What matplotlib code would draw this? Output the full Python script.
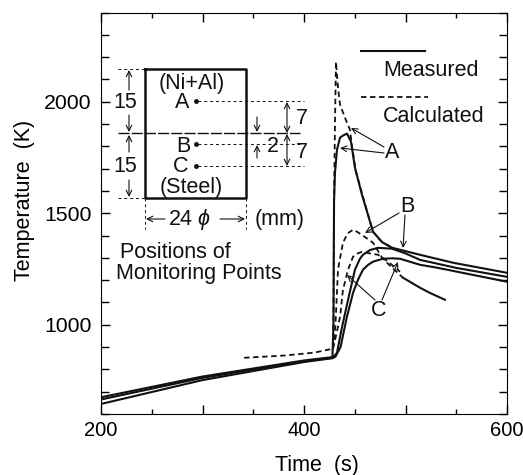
import matplotlib
matplotlib.use("Agg")
import matplotlib.pyplot as plt
from matplotlib.ticker import FixedLocator, FuncFormatter, MultipleLocator

plt.rcParams['font.family'] = ['Liberation Sans', 'DejaVu Sans']
plt.rcParams['mathtext.fontset'] = 'custom'
plt.rcParams['mathtext.it'] = 'Liberation Sans:italic'

# measured curves
a_meas_t = [200, 300, 400, 428, 429, 429.6, 430.5, 432.5, 435.5, 439, 442.4, 446.3, 450.2, 457.1, 468, 477, 487, 495, 514, 547, 600]
a_meas_T = [675, 768, 840, 855, 1000, 1552, 1680, 1785, 1839, 1850, 1857, 1821, 1704, 1583, 1417, 1370, 1345, 1336, 1314, 1278, 1233]
b_meas_t = [200, 300, 400, 428, 432.5, 437, 443.4, 450.2, 455, 458.1, 465, 472.9, 486.7, 500, 514.3, 550, 600]
b_meas_T = [665, 762, 837, 852, 874, 980, 1112, 1247, 1295, 1314, 1335, 1345, 1341, 1320, 1291, 1255, 1215]
c_meas_t = [200, 300, 400, 428, 431, 436, 442, 448.3, 453, 458.1, 463, 468, 477.8, 487, 494.6, 514.3, 531, 600]
c_meas_T = [645, 752, 833, 850, 857, 900, 1030, 1143, 1200, 1247, 1268, 1283, 1296, 1298, 1296, 1269, 1256, 1193]

# calculated curves
a_calc_t = [341, 380, 410, 428.6, 429, 429.6, 430.5, 431.5, 433.5, 435.5, 440.4, 445.3, 447.3, 451, 458, 468, 477, 487]
a_calc_T = [852, 862, 875, 893, 1000, 1552, 1897, 2179, 2063, 1987, 1928, 1874, 1800, 1690, 1575, 1417, 1370, 1345]
b_calc_t = [428.6, 431, 433.5, 436, 438.4, 443, 448.3, 453, 458, 468, 477, 486.7, 497.5]
b_calc_T = [893, 1000, 1247, 1310, 1368, 1410, 1426, 1415, 1400, 1368, 1300, 1256, 1211]
c_calc_t = [428.6, 432, 435.5, 438.4, 443.4, 448.3, 453, 457, 465, 472.9, 482.8, 494.6]
c_calc_T = [893, 960, 1036, 1157, 1247, 1305, 1320, 1327, 1320, 1314, 1283, 1238]
# the tail of the calculated curve is printed solid
tail_t = [497.5, 514.3, 524, 538.9]
tail_T = [1211, 1166, 1143, 1112]

x_labels = [200, 400, 600]

fig = plt.figure(figsize=(5.23, 4.75), dpi=100)
ax = fig.add_axes([101 / 523, (475 - 414) / 475, 406 / 523, 401.5 / 475])

for t, T in [(a_meas_t, a_meas_T), (b_meas_t, b_meas_T), (c_meas_t, c_meas_T), (tail_t, tail_T)]:
    ax.plot(t, T, color='#111111', lw=1.5)
for t, T in [(a_calc_t, a_calc_T), (b_calc_t, b_calc_T), (c_calc_t, c_calc_T)]:
    ax.plot(t, T, color='#111111', lw=1.3, ls=(0, (3, 2)))

ax.set_xlim(200, 600)
ax.set_ylim(600, 2400)
ax.xaxis.set_major_locator(MultipleLocator(100))
ax.xaxis.set_minor_locator(MultipleLocator(50))
ax.yaxis.set_major_locator(FixedLocator([1000, 1500, 2000]))
ax.yaxis.set_minor_locator(MultipleLocator(100))
ax.xaxis.set_major_formatter(FuncFormatter(lambda v, p: str(int(v)) if int(v) in x_labels else ''))
ax.tick_params(which='major', direction='in', top=True, right=True, length=6.5, width=1, labelsize=15.3, pad=5)
ax.tick_params(which='minor', direction='in', top=True, right=True, length=3.5, width=1)
ax.tick_params(axis='y', which='minor', length=5.5)
ax.tick_params(axis='y', which='major', pad=7)
ax.tick_params(axis='x', which='major', labelsize=14.5)
ax.set_xlabel('Time  (s)', fontsize=15.5, labelpad=11, x=0.532)
ax.set_ylabel('Temperature  (K)', fontsize=15.5, labelpad=6, y=0.533)

# overlay in pixels for the sketch and the labels
ov = fig.add_axes([0, 0, 1, 1], facecolor='none')
ov.set_xlim(0, 523)
ov.set_ylim(475, 0)
ov.axis('off')


def arrow(x0, y0, x1, y1, style='->', lw=0.8):
    ov.annotate('', xy=(x1, y1), xytext=(x0, y0),
                arrowprops=dict(arrowstyle=style, lw=lw, color='#111111', shrinkA=0, shrinkB=0, mutation_scale=10))


def label(x, y, s, ha='center', size=15.5):
    ov.text(x, y, s, ha=ha, va='center', fontsize=size, color='#111111')


# specimen
ov.plot([145, 246, 246, 145, 145], [69, 69, 198, 198, 69], color='#111111', lw=1.8)
ov.plot([118, 300], [133, 133], color='#111111', lw=1, ls=(0, (8, 1.5)))
ov.plot([118, 145], [69, 69], color='#111111', lw=0.7, ls=(0, (3, 3)))
ov.plot([118, 145], [198, 198], color='#111111', lw=0.7, ls=(0, (3, 3)))
ov.plot([145, 145], [198, 229], color='#111111', lw=0.7, ls=(0, (3, 3)))
ov.plot([246, 246], [198, 229], color='#111111', lw=0.7, ls=(0, (3, 3)))

for y, x1 in [(101, 304), (144, 300), (166, 304)]:
    ov.plot([196], [y], marker='o', ms=2.5, color='#111111')
    ov.plot([198, x1], [y, y], color='#111111', lw=0.7, ls=(0, (3, 3)))

arrow(129, 90, 129, 70)
arrow(129, 115, 129, 132)
arrow(129, 152, 129, 135)
arrow(129, 180, 129, 197)
arrow(165, 219, 146, 219)
arrow(220, 219, 245, 219)
arrow(257, 117, 257, 132)
arrow(257, 158, 257, 145)
arrow(287, 102, 287, 133, style='<->')
arrow(287, 134, 287, 166, style='<->')

label(125, 103, '15')
label(125, 167, '15')
label(192, 83, '(Ni+Al)')
label(182, 103, 'A')
label(183, 146, 'B')
label(181, 167, 'C')
label(191, 187, '(Steel)')
label(190, 219, '24 $\\phi$')
label(255, 219, '(mm)', ha='left')
label(273, 147, '2')
label(302, 119, '7')
label(302, 152, '7')
label(120, 253, 'Positions of', ha='left')
label(116, 273, 'Monitoring Points', ha='left')

# legend
ov.plot([361, 425], [51, 51], color='#111111', lw=1.5)
ov.plot([361, 428], [97, 97], color='#111111', lw=1.3, ls=(0, (3, 2)))
label(383, 70, 'Measured', ha='left')
label(383, 116, 'Calculated', ha='left')

# curve labels
label(392, 153, 'A')
label(407, 206, 'B')
label(379, 311, 'C')
arrow(384, 147, 351, 128)
arrow(384, 153, 340, 148)
arrow(399, 213, 365, 233)
arrow(405, 215, 403, 248)
arrow(375, 300, 347, 275)
arrow(382, 300, 398, 262)

fig.savefig('out.png', dpi=100)
